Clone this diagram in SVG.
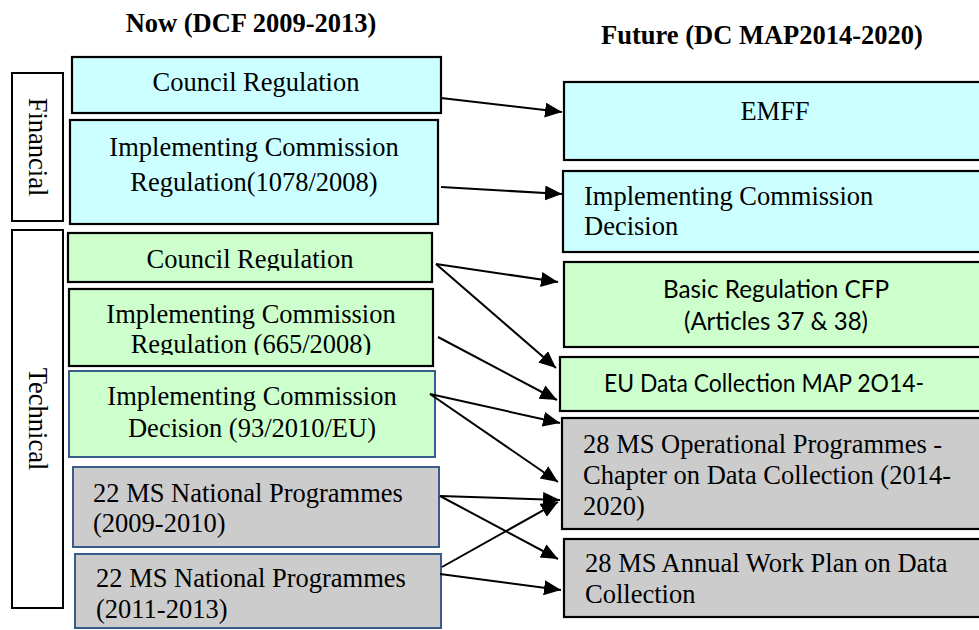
<svg xmlns="http://www.w3.org/2000/svg" width="979" height="630" viewBox="0 0 979 630">
<style>
text{font-family:"Liberation Serif","Times New Roman",serif;font-size:26.5px;fill:#000}
.title{font-weight:bold}
.c{text-anchor:middle}
.sans{font-family:Lato,"Open Sans","Liberation Sans",sans-serif;font-size:25.5px}
.lbl{fill:#fff;stroke:#000;stroke-width:2}
.blue{fill:#ccffff;stroke:#000;stroke-width:2.2}
.green{fill:#ccffcc;stroke:#000;stroke-width:2.2}
.greenb{fill:#ccffcc;stroke:#385d8a;stroke-width:2}
.grayb{fill:#cccccc;stroke:#385d8a;stroke-width:2}
.gray{fill:#cccccc;stroke:#000;stroke-width:2.2}
.conn line{stroke:#000;stroke-width:2;marker-end:url(#arr)}
</style>
<defs>
<marker id="arr" markerUnits="userSpaceOnUse" markerWidth="18" markerHeight="16" refX="17" refY="7.5" orient="auto">
<path d="M0,0 L17,7.5 L0,15 Z" fill="#000"/>
</marker>
<clipPath id="clipG1"><rect x="60" y="230" width="380" height="41"/></clipPath>
<clipPath id="clipG2"><rect x="60" y="286" width="380" height="69"/></clipPath>
</defs>
<rect width="979" height="630" fill="#fff"/>

<g id="title-now"><text class="title c" x="251" y="32">Now (DCF 2009-2013)</text></g>
<g id="title-future"><text class="title c" x="762" y="44">Future (DC MAP2014-2020)</text></g>

<g id="label-financial">
<rect class="lbl" x="12" y="73" width="51" height="148"/>
<text class="c" transform="translate(29,147) rotate(90)">Financial</text>
</g>
<g id="label-technical">
<rect class="lbl" x="12" y="230" width="51" height="378"/>
<text class="c" transform="translate(29,419) rotate(90)">Technical</text>
</g>

<g id="now-council-fin">
<rect class="blue" x="72" y="57" width="369" height="56"/>
<text class="c" x="256" y="91">Council Regulation</text>
</g>
<g id="now-icr-fin">
<rect class="blue" x="70" y="120" width="368" height="104"/>
<text class="c" x="254" y="156">Implementing Commission</text>
<text class="c" x="254" y="191">Regulation(1078/2008)</text>
</g>
<g id="now-council-tech">
<rect class="green" x="68" y="233" width="364" height="49"/>
<text class="c" x="250" y="268" clip-path="url(#clipG1)">Council Regulation</text>
</g>
<g id="now-icr-tech">
<rect class="green" x="69" y="289" width="364" height="77"/>
<g clip-path="url(#clipG2)">
<text class="c" x="251" y="323">Implementing Commission</text>
<text class="c" x="251" y="353">Regulation (665/2008)</text>
</g>
</g>
<g id="now-icd-tech">
<rect class="greenb" x="69" y="371" width="366" height="86"/>
<text class="c" x="252" y="405">Implementing Commission</text>
<text class="c" x="252" y="437">Decision (93/2010/EU)</text>
</g>
<g id="now-np-2009">
<rect class="grayb" x="73" y="467" width="366" height="80"/>
<text x="93" y="502">22 MS National Programmes</text>
<text x="93" y="532">(2009-2010)</text>
</g>
<g id="now-np-2011">
<rect class="grayb" x="75" y="554" width="366" height="74"/>
<text x="96" y="587">22 MS National Programmes</text>
<text x="96" y="618">(2011-2013)</text>
</g>

<g id="fut-emff">
<rect class="blue" x="564" y="82" width="430" height="78"/>
<text class="c" x="775" y="120">EMFF</text>
</g>
<g id="fut-icd">
<rect class="blue" x="563" y="171" width="431" height="81"/>
<text x="584" y="205">Implementing Commission</text>
<text x="584" y="235">Decision</text>
</g>
<g id="fut-basic">
<rect class="green" x="564" y="262" width="430" height="85"/>
<text class="c sans" x="776" y="298" textLength="226" lengthAdjust="spacingAndGlyphs">Basic Regulation CFP</text>
<text class="c sans" x="776" y="330" textLength="184" lengthAdjust="spacingAndGlyphs">(Articles 37 &amp; 38)</text>
</g>
<g id="fut-eumap">
<rect class="green" x="560" y="357" width="434" height="54"/>
<text class="c sans" x="764" y="392" textLength="320" lengthAdjust="spacingAndGlyphs">EU Data Collection MAP 2O14-</text>
</g>
<g id="fut-ops">
<rect class="gray" x="562" y="418" width="432" height="111"/>
<text x="583" y="453">28 MS Operational Programmes -</text>
<text x="583" y="484">Chapter on Data Collection (2014-</text>
<text x="583" y="515">2020)</text>
</g>
<g id="fut-awp">
<rect class="gray" x="564" y="539" width="430" height="78"/>
<text x="585" y="572">28 MS Annual Work Plan on Data</text>
<text x="585" y="603">Collection</text>
</g>

<g id="connectors" class="conn">
<line x1="441" y1="98" x2="562" y2="112"/>
<line x1="441" y1="187" x2="562" y2="194"/>
<line x1="436" y1="264" x2="558" y2="282"/>
<line x1="436" y1="264" x2="556" y2="368"/>
<line x1="438" y1="337" x2="557" y2="400"/>
<line x1="430" y1="394" x2="560" y2="423"/>
<line x1="430" y1="394" x2="558" y2="482"/>
<line x1="440" y1="496" x2="560" y2="500"/>
<line x1="440" y1="496" x2="558" y2="559"/>
<line x1="442" y1="567" x2="558" y2="502"/>
<line x1="440" y1="574" x2="561" y2="590"/>
</g>
</svg>
